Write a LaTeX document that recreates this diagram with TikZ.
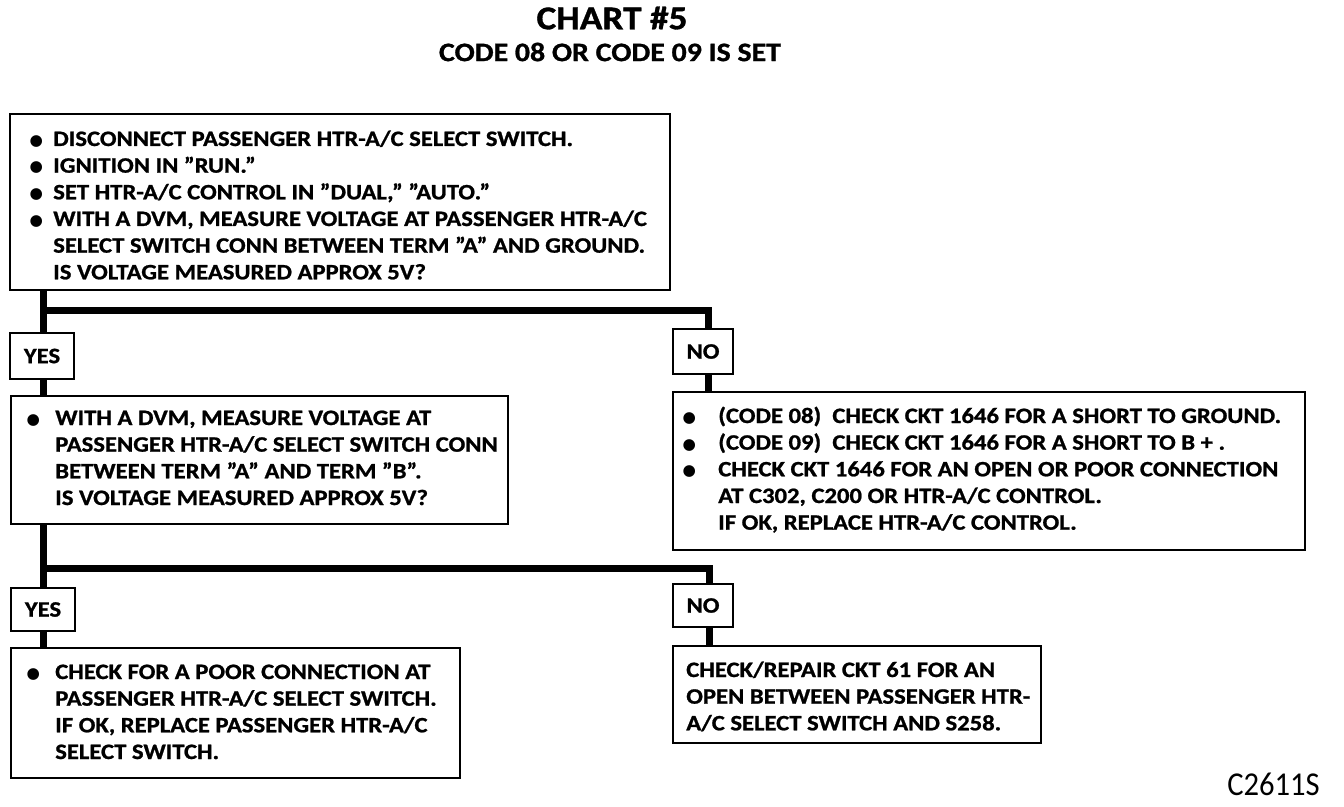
\documentclass[tikz,border=0pt]{standalone}
\usepackage{fontspec}
\usepackage{graphicx}
\setmainfont{Carlito}[FakeStretch=1.12, BoldFeatures={FakeBold=1}]
\newfontfamily\symf{DejaVu Sans}
\newcommand\boxfont{\fontsize{16.5}{20}\selectfont\bfseries}
\newcommand\lblfont{\fontsize{16.5}{20}\selectfont\bfseries}
\newcommand\titlefont{\fontsize{25}{30}\selectfont\bfseries}
\newcommand\subfont{\fontsize{20}{24}\selectfont\bfseries}
\newcommand\codefont{\fontsize{25}{30}\selectfont}
\newcommand\bul{\makebox[0pt]{\fontsize{11.5}{11.5}\symf\raisebox{0.5pt}{●}}}
\begin{document}
\begin{tikzpicture}[x=0.75pt,y=-0.75pt,
  box/.style={draw, line width=1.5pt, anchor=north west, inner sep=0pt},
  yn/.style={draw, line width=1.5pt, anchor=north west, inner sep=0pt, font=\lblfont},
  txt/.style={anchor=base west, inner sep=0pt, font=\boxfont, align=left},
  conn/.style={line width=5.25pt, line join=miter}]
\useasboundingbox (0,0) rectangle (1344,806);

% titles
\node[font=\titlefont] (title) at (612,18) {CHART \#5};
\node[font=\subfont] (sub) at (610,52) {CODE 08 OR CODE 09 IS SET};
\node[font=\codefont, anchor=east, inner sep=0pt] (code) at (1320,784) {\scalebox{0.82}[1]{C2611S}};

% boxes
\node[box, minimum width=495pt, minimum height=132pt] (B1) at (9,113) {};
\node[yn, minimum width=48pt, minimum height=34.5pt] (Y1) at (9,332) {YES};
\node[yn, minimum width=45pt, minimum height=33.75pt] (N1) at (672,328) {NO};
\node[box, minimum width=372.75pt, minimum height=96pt] (B2) at (10,395) {};
\node[box, minimum width=474pt, minimum height=118.5pt] (B3) at (672,391) {};
\node[yn, minimum width=48pt, minimum height=32.25pt] (Y2) at (10,587) {YES};
\node[yn, minimum width=45pt, minimum height=32.25pt] (N2) at (672,583) {NO};
\node[box, minimum width=336.75pt, minimum height=97.5pt] (B4) at (10,647) {};
\node[box, minimum width=276pt, minimum height=72.75pt] (B5) at (672,645) {};

% texts
\node[txt] (T1) at (36,146) {\begin{tabular}[t]{@{}p{12.75pt}@{}l@{}}
\bul & DISCONNECT PASSENGER HTR-A/C SELECT SWITCH.\\
\bul & IGNITION IN "RUN."\\
\bul & SET HTR-A/C CONTROL IN "DUAL," "AUTO."\\
\bul & WITH A DVM, MEASURE VOLTAGE AT PASSENGER HTR-A/C\\
 & SELECT SWITCH CONN BETWEEN TERM "A" AND GROUND.\\
 & IS VOLTAGE MEASURED APPROX 5V?
\end{tabular}};
\node[txt] (T2) at (33,425) {\begin{tabular}[t]{@{}p{16.5pt}@{}l@{}}
\bul & WITH A DVM, MEASURE VOLTAGE AT\\
 & PASSENGER HTR-A/C SELECT SWITCH CONN\\
 & BETWEEN TERM "A" AND TERM "B".\\
 & IS VOLTAGE MEASURED APPROX 5V?
\end{tabular}};
\node[txt] (T3) at (689,423) {\begin{tabular}[t]{@{}p{21.75pt}@{}l@{}}
\bul & (CODE 08)\ \ CHECK CKT 1646 FOR A SHORT TO GROUND.\\
\bul & (CODE 09)\ \ CHECK CKT 1646 FOR A SHORT TO B + .\\
\bul & CHECK CKT 1646 FOR AN OPEN OR POOR CONNECTION\\
 & AT C302, C200 OR HTR-A/C CONTROL.\\
 & IF OK, REPLACE HTR-A/C CONTROL.
\end{tabular}};
\node[txt] (T4) at (33,679) {\begin{tabular}[t]{@{}p{16.5pt}@{}l@{}}
\bul & CHECK FOR A POOR CONNECTION AT\\
 & PASSENGER HTR-A/C SELECT SWITCH.\\
 & IF OK, REPLACE PASSENGER HTR-A/C\\
 & SELECT SWITCH.
\end{tabular}};
\node[txt] (T5) at (686,677) {\begin{tabular}[t]{@{}l@{}}
CHECK/REPAIR CKT 61 FOR AN\\
OPEN BETWEEN PASSENGER HTR-\\
A/C SELECT SWITCH AND S258.
\end{tabular}};

% connectors
\coordinate (j1) at (43,310);
\coordinate (k1) at (708,310);
\draw[conn] (B1.south -| j1) -- (Y1.north -| j1);
\draw[conn] (j1) -- (k1) -- (N1.north -| k1);
\draw[conn] (Y1.south -| j1) -- (B2.north -| j1);
\draw[conn] (N1.south -| k1) -- (B3.north -| k1);
\coordinate (j2) at (43,568);
\coordinate (k2) at (709,568);
\draw[conn] (B2.south -| j2) -- (Y2.north -| j2);
\draw[conn] (j2) -- (k2) -- (N2.north -| k2);
\draw[conn] (Y2.south -| j2) -- (B4.north -| j2);
\draw[conn] (N2.south -| k2) -- (B5.north -| k2);
\end{tikzpicture}
\end{document}
